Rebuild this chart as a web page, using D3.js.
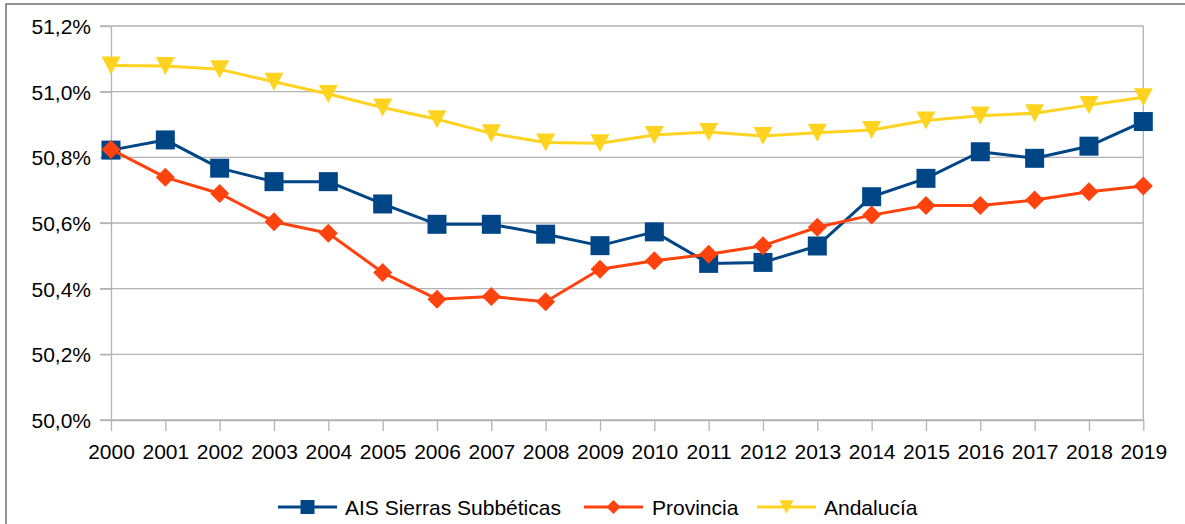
<!DOCTYPE html>
<html>
<head>
<meta charset="utf-8">
<script src="https://cdn.jsdelivr.net/npm/d3@7"></script>
<style>
  body { margin: 0; background: #fff; }
  svg { display: block; font-family: "Liberation Sans", Arial, sans-serif; }
</style>
</head>
<body>
<div id="chart"></div>
<script>
// data (percent)
const years = ["2000","2001","2002","2003","2004","2005","2006","2007","2008","2009",
               "2010","2011","2012","2013","2014","2015","2016","2017","2018","2019"];
const sierras = [50.822, 50.853, 50.767, 50.726, 50.726, 50.658, 50.596, 50.596, 50.566, 50.531,
                 50.573, 50.477, 50.480, 50.530, 50.680, 50.736, 50.817, 50.797, 50.834, 50.909];
const provincia = [50.824, 50.739, 50.690, 50.604, 50.569, 50.449, 50.368, 50.376, 50.360, 50.459,
                   50.485, 50.505, 50.531, 50.587, 50.624, 50.653, 50.653, 50.670, 50.695, 50.713];
const andalucia = [51.080, 51.078, 51.068, 51.030, 50.993, 50.952, 50.916, 50.873, 50.845, 50.843,
                   50.868, 50.877, 50.865, 50.875, 50.883, 50.912, 50.927, 50.934, 50.959, 50.983];
const yTicks = [50.0, 50.2, 50.4, 50.6, 50.8, 51.0, 51.2];

const seriesNames = ["AIS Sierras Subbéticas", "Provincia", "Andalucía"];
const seriesColors = ["#004586", "#ff420e", "#ffd320"];
const seriesShapes = [d3.symbolSquare, d3.symbolDiamond, "triDown"];

const width = 1185, height = 524;
const plot = { left: 111, right: 1143.3, top: 26, bottom: 420 };
const fontSize = 21;

const svg = d3.select("#chart").append("svg")
    .attr("width", width)
    .attr("height", height);

// outer frame
svg.append("rect")
    .attr("x", 6).attr("y", 4)
    .attr("width", width + 10).attr("height", height + 10)
    .attr("fill", "#fff")
    .attr("stroke", "#707070")
    .attr("stroke-width", 1.5);

const x = d3.scalePoint().domain(years).range([plot.left, plot.right]);
const y = d3.scaleLinear().domain([50.0, 51.2]).range([plot.bottom, plot.top]);

// horizontal grid
svg.append("g")
    .selectAll("line")
    .data(yTicks)
    .enter().append("line")
    .attr("x1", plot.left - 11)
    .attr("x2", plot.right)
    .attr("y1", d => y(d))
    .attr("y2", d => y(d))
    .attr("stroke", "#b3b3b3")
    .attr("stroke-width", 1.3);

// right border of plot
svg.append("line")
    .attr("x1", plot.right).attr("x2", plot.right)
    .attr("y1", plot.top).attr("y2", plot.bottom)
    .attr("stroke", "#b3b3b3").attr("stroke-width", 1.3);

// y axis
const yAxis = svg.append("g")
    .attr("transform", `translate(${plot.left},0)`)
    .call(d3.axisLeft(y).tickValues(yTicks).tickSize(11).tickSizeOuter(0)
        .tickFormat(d => d3.format(".1f")(d).replace(".", ",") + "%"));
yAxis.select(".domain").attr("stroke", "#b3b3b3").attr("stroke-width", 1.3);
yAxis.selectAll(".tick line").attr("stroke", "#b3b3b3").attr("stroke-width", 1.3);
yAxis.selectAll("text")
    .attr("x", -20)
    .attr("dy", "0.36em")
    .attr("font-size", fontSize)
    .attr("font-family", "Liberation Sans, Arial, sans-serif")
    .attr("fill", "#000");

// x axis
const xAxis = svg.append("g")
    .attr("transform", `translate(0,${plot.bottom})`)
    .call(d3.axisBottom(x).tickSize(11).tickSizeOuter(0));
xAxis.select(".domain").attr("stroke", "#b3b3b3").attr("stroke-width", 1.3);
xAxis.selectAll(".tick line").attr("stroke", "#b3b3b3").attr("stroke-width", 1.3);
xAxis.selectAll("text")
    .attr("y", 39)
    .attr("dy", 0)
    .attr("font-size", fontSize)
    .attr("font-family", "Liberation Sans, Arial, sans-serif")
    .attr("fill", "#000");

// marker path helper
function markerPath(shape, size) {
    if (shape === "triDown") {
        const w = size, h = size * 0.95;
        return `M${-w / 2},${-h / 2}L${w / 2},${-h / 2}L0,${h / 2}Z`;
    }
    if (shape === d3.symbolDiamond) {
        const s = size / 2;
        return `M0,${-s}L${s},0L0,${s}L${-s},0Z`;
    }
    return d3.symbol().type(shape).size(size * size)();
}

const allSeries = [sierras, provincia, andalucia];
const line = d3.line()
    .x((d, i) => x(years[i]))
    .y(d => y(d));

allSeries.forEach((vals, k) => {
    const g = svg.append("g");
    g.append("path")
        .datum(vals)
        .attr("d", line)
        .attr("fill", "none")
        .attr("stroke", seriesColors[k])
        .attr("stroke-width", 3)
        .attr("stroke-linejoin", "round");
    g.selectAll("path.m")
        .data(vals)
        .enter().append("path")
        .attr("class", "m")
        .attr("transform", (d, i) => `translate(${x(years[i])},${y(d)})`)
        .attr("d", markerPath(seriesShapes[k], 19))
        .attr("fill", seriesColors[k]);
});

// legend
const legendItems = [
    { x0: 278, tx: 345 },
    { x0: 584, tx: 652 },
    { x0: 757, tx: 824 }
];
const legendY = 507;
const legend = svg.append("g");
legendItems.forEach((it, k) => {
    legend.append("line")
        .attr("x1", it.x0).attr("x2", it.x0 + 59)
        .attr("y1", legendY).attr("y2", legendY)
        .attr("stroke", seriesColors[k])
        .attr("stroke-width", 3);
    legend.append("path")
        .attr("transform", `translate(${it.x0 + 29.5},${legendY})`)
        .attr("d", markerPath(seriesShapes[k], 14))
        .attr("fill", seriesColors[k]);
    legend.append("text")
        .attr("x", it.tx)
        .attr("y", legendY)
        .attr("dy", "0.36em")
        .attr("font-size", fontSize)
        .attr("fill", "#000")
        .text(seriesNames[k]);
});
</script>
</body>
</html>
